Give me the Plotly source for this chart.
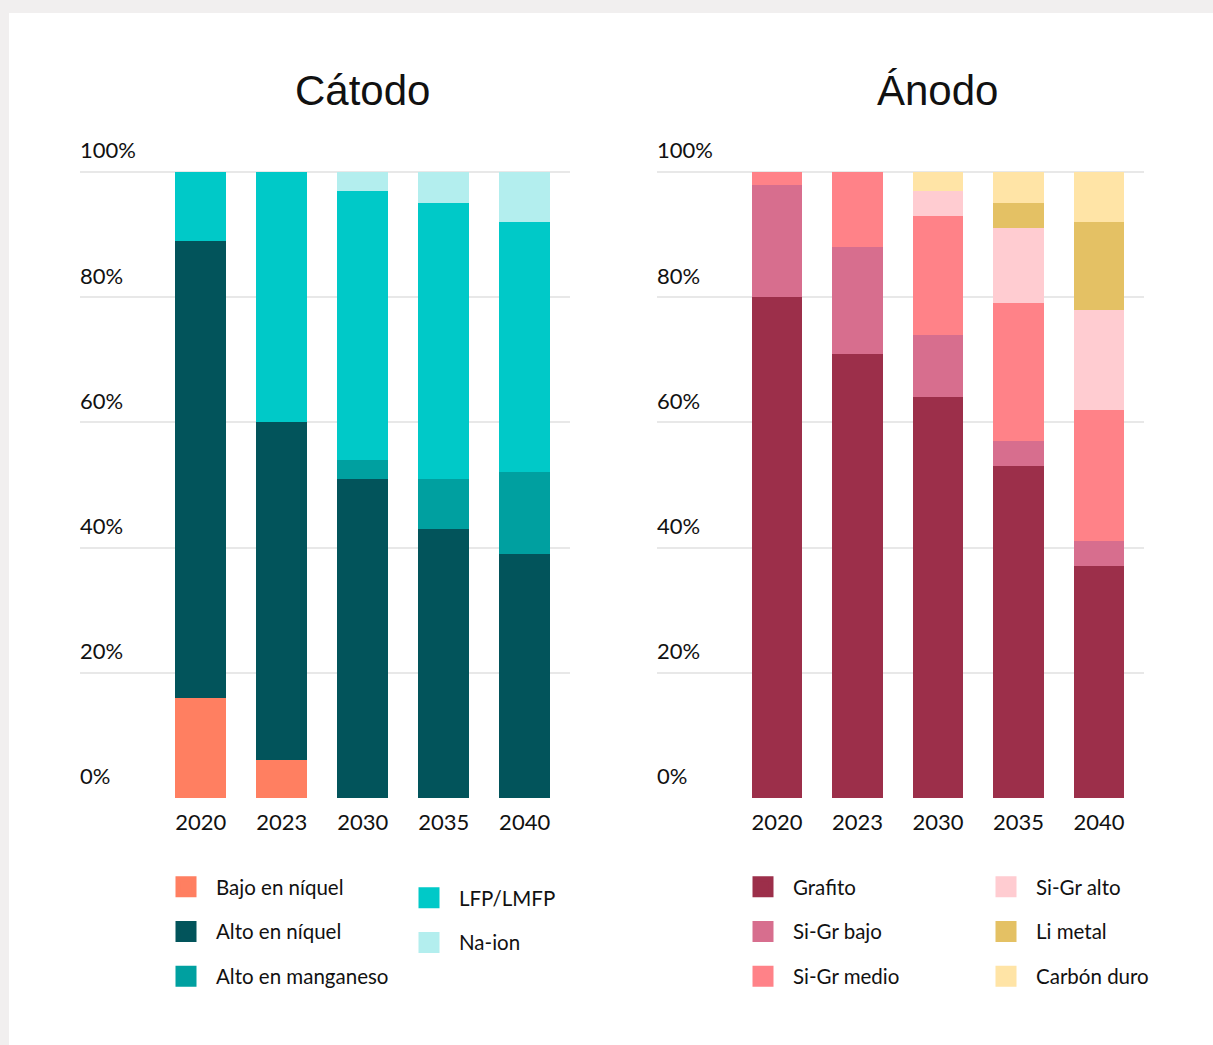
import plotly.graph_objects as go

years = ["2020", "2023", "2030", "2035", "2040"]

# Cátodo (% share)
cat_names = ["Bajo en níquel", "Alto en níquel", "Alto en manganeso", "LFP/LMFP", "Na-ion"]
bajo_niquel = [16, 6, 0, 0, 0]
alto_niquel = [73, 54, 51, 43, 39]
alto_manganeso = [0, 0, 3, 8, 13]
lfp_lmfp = [11, 40, 43, 44, 40]
na_ion = [0, 0, 3, 5, 8]
cat_colors = ["#FF7F61", "#02545B", "#00A0A0", "#00C9C8", "#B3EEEE"]

# Ánodo (% share)
an_names = ["Grafito", "Si-Gr bajo", "Si-Gr medio", "Si-Gr alto", "Li metal", "Carbón duro"]
grafito = [80, 71, 64, 53, 37]
sigr_bajo = [18, 17, 10, 4, 4]
sigr_medio = [2, 12, 19, 22, 21]
sigr_alto = [0, 0, 4, 12, 16]
li_metal = [0, 0, 0, 4, 14]
carbon_duro = [0, 0, 3, 5, 8]
an_colors = ["#9C2F4A", "#D76E8E", "#FF8288", "#FFCCD1", "#E4C164", "#FFE4A6"]

ytick_vals = [0, 20, 40, 60, 80, 100]
ytick_text = ["0%", "20%", "40%", "60%", "80%", "100%"]

titles = ["Cátodo", "Ánodo"]

cat_series = [bajo_niquel, alto_niquel, alto_manganeso, lfp_lmfp, na_ion]
an_series = [grafito, sigr_bajo, sigr_medio, sigr_alto, li_metal, carbon_duro]

W, H = 1213, 1045
TICK_FONT = "Lato, 'Liberation Sans', sans-serif"
TITLE_FONT = "'Liberation Sans', Arial, sans-serif"

fig = go.Figure()

cat_leg = ["legend", "legend", "legend", "legend2", "legend2"]
an_leg = ["legend3", "legend3", "legend3", "legend4", "legend4", "legend4"]

for name, vals, col, lg in zip(cat_names, cat_series, cat_colors, cat_leg):
    fig.add_trace(go.Bar(x=years, y=vals, name=name, marker=dict(color=col, line=dict(width=0)),
                         xaxis="x", yaxis="y", showlegend=False, hoverinfo="x+y+name"))
    fig.add_trace(go.Scatter(x=[None], y=[None], mode="markers", name=name, legend=lg,
                             legendgroup=name, xaxis="x", yaxis="y",
                             marker=dict(symbol="square", size=16, color=col,
                                         line=dict(color=col, width=5))))

for name, vals, col, lg in zip(an_names, an_series, an_colors, an_leg):
    fig.add_trace(go.Bar(x=years, y=vals, name=name, marker=dict(color=col, line=dict(width=0)),
                         xaxis="x2", yaxis="y2", showlegend=False, hoverinfo="x+y+name"))
    fig.add_trace(go.Scatter(x=[None], y=[None], mode="markers", name=name, legend=lg,
                             legendgroup=name, xaxis="x2", yaxis="y2",
                             marker=dict(symbol="square", size=16, color=col,
                                         line=dict(color=col, width=5))))

# y range extended above 100 so the "100%" label (drawn above its gridline) stays inside
YMAX = 106
px_per_unit = (798 - 172) / 100
ytop_px = 798 - YMAX * px_per_unit
ydom = [(H - 798) / H, (H - ytop_px) / H]

xcommon = dict(type="category", categoryorder="array", categoryarray=years,
               range=[-1.49, 4.56], showgrid=False, zeroline=False, showline=False,
               ticks="outside", ticklen=5, tickcolor="rgba(0,0,0,0)",
               tickfont=dict(family=TICK_FONT, size=22, color="#111111"), fixedrange=True)
ycommon = dict(range=[0, YMAX], tickmode="array", tickvals=ytick_vals, ticktext=ytick_text,
               showgrid=True, gridcolor="#E8E8E8", gridwidth=2, zeroline=False,
               showline=False, ticks="", ticklabelposition="inside top",
               ticklabelstandoff=-3, ticklabelshift=-6,
               tickfont=dict(family=TICK_FONT, size=22, color="#111111"), fixedrange=True)

legcommon = dict(font=dict(family=TICK_FONT, size=20.5, color="#111111"),
                 bgcolor="rgba(0,0,0,0)", borderwidth=0, orientation="v",
                 itemwidth=50, tracegroupgap=15, xanchor="left", yanchor="top",
                 itemclick=False, itemdoubleclick=False)

fig.update_layout(
    width=W, height=H,
    margin=dict(l=0, r=0, t=0, b=0),
    paper_bgcolor="#F1EFEF",
    plot_bgcolor="rgba(0,0,0,0)",
    barmode="stack",
    bargap=0.37,
    showlegend=True,
    xaxis=dict(domain=[80 / W, 570 / W], anchor="y", **xcommon),
    yaxis=dict(domain=ydom, anchor="x", **ycommon),
    xaxis2=dict(domain=[657 / W, 1144 / W], anchor="y2", **xcommon),
    yaxis2=dict(domain=ydom, anchor="x2", **ycommon),
    legend=dict(x=156 / W, y=(H - 867) / H, **legcommon),
    legend2=dict(x=399 / W, y=(H - 878) / H, **legcommon),
    legend3=dict(x=733 / W, y=(H - 867) / H, **legcommon),
    legend4=dict(x=976 / W, y=(H - 867) / H, **legcommon),
    shapes=[dict(type="rect", xref="paper", yref="paper", x0=9 / W, x1=1, y0=0,
                 y1=(H - 13) / H, fillcolor="white", line=dict(width=0), layer="below")],
    annotations=[
        dict(text=titles[0], xref="x", yref="paper", x=2, y=(H - 91) / H,
             xanchor="center", yanchor="middle", showarrow=False,
             font=dict(family=TITLE_FONT, size=42, color="#111111")),
        dict(text=titles[1], xref="x2", yref="paper", x=2, y=(H - 91) / H,
             xanchor="center", yanchor="middle", showarrow=False,
             font=dict(family=TITLE_FONT, size=42, color="#111111")),
    ],
)

fig.write_html("out.html")
